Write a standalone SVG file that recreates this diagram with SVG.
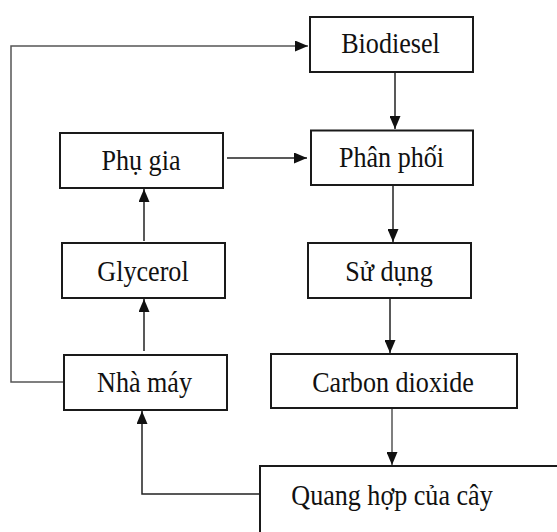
<svg xmlns="http://www.w3.org/2000/svg" width="557" height="532" viewBox="0 0 557 532">
<style>
.box{fill:#fff;stroke:#1a1a1a;stroke-width:2}
.lbl{font-family:"Liberation Serif","Times New Roman",serif;font-size:30px;fill:#111;text-anchor:middle}
.con{fill:none;stroke:#222;stroke-width:1.5}
.gray{stroke:#555}
</style>
<defs>
<marker id="ah" markerUnits="userSpaceOnUse" markerWidth="13" markerHeight="11" refX="13" refY="5.5" orient="auto">
<path d="M0,0 L13,5.5 L0,11 z" fill="#111"/>
</marker>
</defs>
<rect width="557" height="532" fill="#fff"/>
<g id="connectors">
<polyline class="con gray" points="64,382 11,382 11,46 308,46" marker-end="url(#ah)"/>
<line class="con" x1="395" y1="72" x2="395" y2="129" marker-end="url(#ah)"/>
<line class="con" x1="227" y1="158" x2="307" y2="158" marker-end="url(#ah)"/>
<line class="con" x1="393" y1="186" x2="393" y2="242" marker-end="url(#ah)"/>
<line class="con" x1="144" y1="241" x2="144" y2="189" marker-end="url(#ah)"/>
<line class="con" x1="144" y1="351" x2="144" y2="299" marker-end="url(#ah)"/>
<line class="con" x1="390" y1="298" x2="390" y2="353" marker-end="url(#ah)"/>
<line class="con gray" x1="392" y1="408" x2="392" y2="465" marker-end="url(#ah)"/>
<polyline class="con" points="269,494 142,494 142,411" marker-end="url(#ah)"/>
</g>
<g id="biodiesel"><rect class="box" x="310" y="17" width="163" height="55"/><text class="lbl" transform="translate(390.5,53) scale(0.87,1)">Biodiesel</text></g>
<g id="phanphoi"><rect class="box" x="311" y="130.5" width="162" height="54.5"/><text class="lbl" transform="translate(391.5,167) scale(0.87,1)">Phân phối</text></g>
<g id="phugia"><rect class="box" x="60" y="133" width="163" height="55"/><text class="lbl" transform="translate(141,170) scale(0.87,1)">Phụ gia</text></g>
<g id="glycerol"><rect class="box" x="62" y="243" width="163" height="55"/><text class="lbl" transform="translate(143,281) scale(0.87,1)">Glycerol</text></g>
<g id="sudung"><rect class="box" x="308" y="243" width="163" height="55"/><text class="lbl" transform="translate(389,281) scale(0.87,1)">Sử dụng</text></g>
<g id="nhamay"><rect class="box" x="64" y="355" width="163" height="55"/><text class="lbl" transform="translate(144.5,392) scale(0.87,1)">Nhà máy</text></g>
<g id="carbondioxide"><rect class="box" x="271" y="354" width="246" height="54"/><text class="lbl" transform="translate(393,392) scale(0.87,1)">Carbon dioxide</text></g>
<g id="quanghop"><rect class="box" x="260" y="466" width="320" height="90"/><text class="lbl" transform="translate(392,505) scale(0.87,1)">Quang hợp của cây</text></g>
</svg>
